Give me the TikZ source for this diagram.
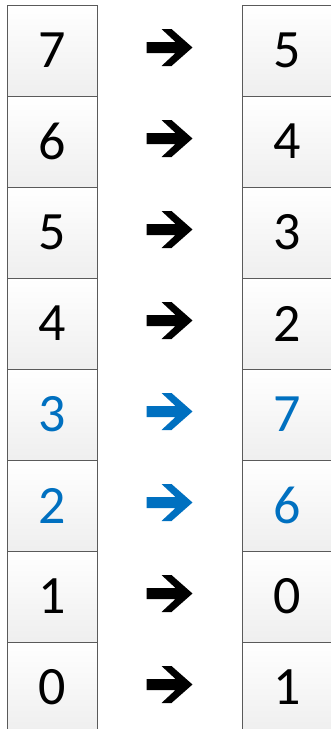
\documentclass[tikz,border=0pt]{standalone}
\usepackage{fontspec}
\setmainfont{Carlito}
\usetikzlibrary{calc}
\definecolor{officeblue}{HTML}{0070C0}
\definecolor{boxline}{HTML}{5A5A5A}
\tikzset{
	cell/.style={draw=boxline,line width=0.9pt,top color=white,bottom color=gray!13,
		minimum width=90pt,minimum height=91pt,inner sep=0pt,font=\fontsize{54}{54}\selectfont},
	fatarrow/.pic={
		\fill(-23,5.5)--(6,5.5)--(-8,18.5)--(2,18.5)--(23,0)--(2,-18.5)--(-8,-18.5)--(6,-5.5)--(-23,-5.5)--cycle;
	}
}
\begin{document}
\begin{tikzpicture}[x=1pt,y=1pt]
	\useasboundingbox (0,0)rectangle(331,-729);
	\fill[white](0,0)rectangle(331,-729);
	\foreach \a/\b/\c [count=\i from 0] in {7/5/black,6/4/black,5/3/black,4/2/black,3/7/officeblue,2/6/officeblue,1/0/black,0/1/black}{
		\node[cell,text=\c] (L\i) at (52,-50.5-91*\i) {\a};
		\node[cell,text=\c] (R\i) at (287,-50.5-91*\i) {\b};
		\path($(L\i)!0.5!(R\i)$)++(0,3)pic[\c]{fatarrow};
	}
\end{tikzpicture}
\end{document}
